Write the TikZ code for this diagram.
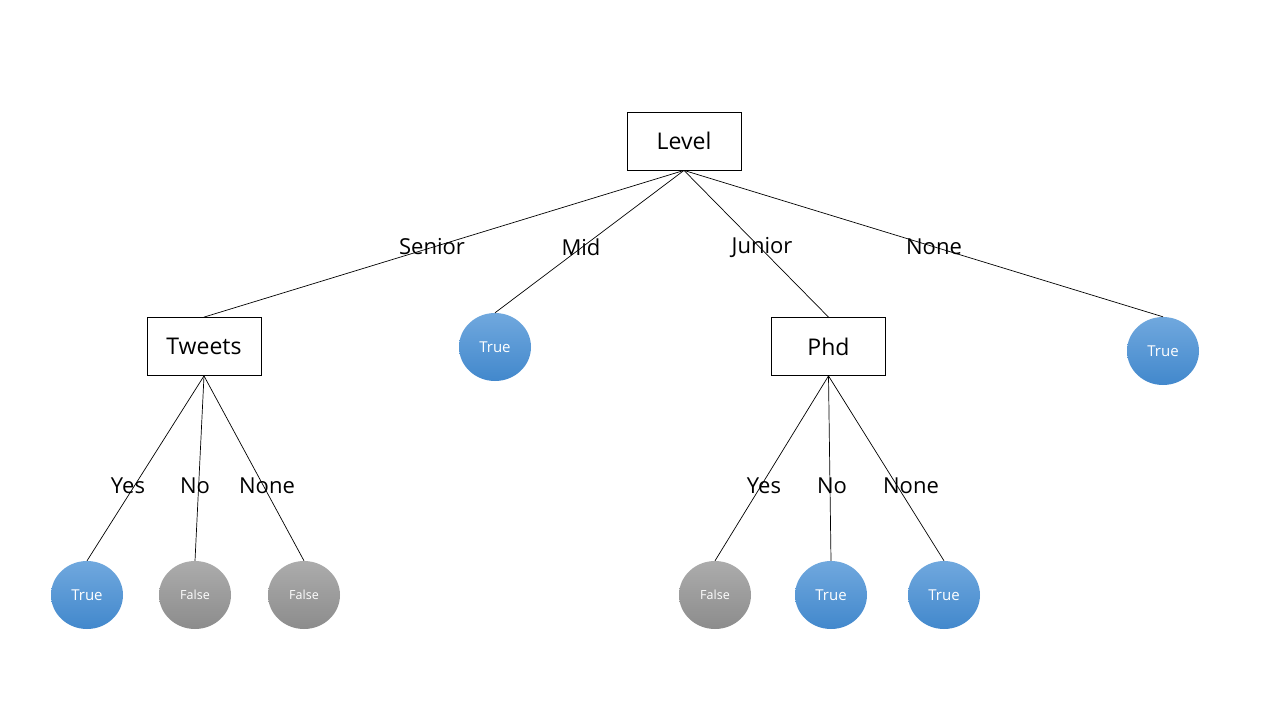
\documentclass[tikz,border=0pt]{standalone}
\usepackage{fontspec}
\setmainfont{Open Sans}
\usetikzlibrary{shapes.geometric}
\definecolor{bluetop}{RGB}{112,168,222}
\definecolor{bluebot}{RGB}{66,136,204}
\definecolor{graytop}{RGB}{172,172,172}
\definecolor{graybot}{RGB}{140,140,140}
\tikzset{
  box/.style={draw=black, line width=0.8pt, minimum width=114pt, minimum height=58pt, inner sep=0pt, font=\fontsize{23}{27}\selectfont},
  leaftrue/.style={ellipse, minimum width=72pt, minimum height=68pt, inner sep=0pt, top color=bluetop, bottom color=bluebot, draw=none, text=white, font=\fontsize{15}{18}\selectfont},
  leaffalse/.style={ellipse, minimum width=72pt, minimum height=68pt, inner sep=0pt, top color=graytop, bottom color=graybot, draw=none, text=white, font=\fontsize{12.5}{15}\selectfont},
  edge/.style={draw=black, line width=0.7pt},
  lbl/.style={font=\fontsize{22}{26}\selectfont, inner sep=0pt}
}
\begin{document}
\begin{tikzpicture}[x=1pt, y=-1pt]
\useasboundingbox (0,0) rectangle (1280,720);
\node[box] (level) at (684,141) {\raisebox{-1pt}{Level}};
\node[box] (tweets) at (204,346.5) {\raisebox{-1pt}{Tweets}};
\node[box] (phd) at (828.5,346.5) {\raisebox{-1pt}{Phd}};
\node[leaftrue] (mid) at (495,347) {True};
\node[leaftrue] (none) at (1163,351) {True};
\node[leaftrue] (t1) at (87,595) {True};
\node[leaffalse] (t2) at (195,595) {False};
\node[leaffalse] (t3) at (304,595) {False};
\node[leaffalse] (p1) at (715,595) {False};
\node[leaftrue] (p2) at (831,595) {True};
\node[leaftrue] (p3) at (944,595) {True};
\draw[edge] (level.south) -- (tweets.north);
\draw[edge] (level.south) -- (mid.north);
\draw[edge] (level.south) -- (phd.north);
\draw[edge] (level.south) -- (none.north);
\draw[edge] (tweets.south) -- (t1.north);
\draw[edge] (tweets.south) -- (t2.north);
\draw[edge] (tweets.south) -- (t3.north);
\draw[edge] (phd.south) -- (p1.north);
\draw[edge] (phd.south) -- (p2.north);
\draw[edge] (phd.south) -- (p3.north);
\node[lbl] (lsenior) at (432,247) {Senior};
\node[lbl] (lmid) at (581,247) {Mid};
\node[lbl] (ljunior) at (762,247) {Junior};
\node[lbl] (lnone) at (934,247) {None};
\node[lbl] (ly1) at (128,486) {Yes};
\node[lbl] (ln1) at (195,486) {No};
\node[lbl] (lnn1) at (267,486) {None};
\node[lbl] (ly2) at (764,486) {Yes};
\node[lbl] (ln2) at (832,486) {No};
\node[lbl] (lnn2) at (911,486) {None};
\end{tikzpicture}
\end{document}
